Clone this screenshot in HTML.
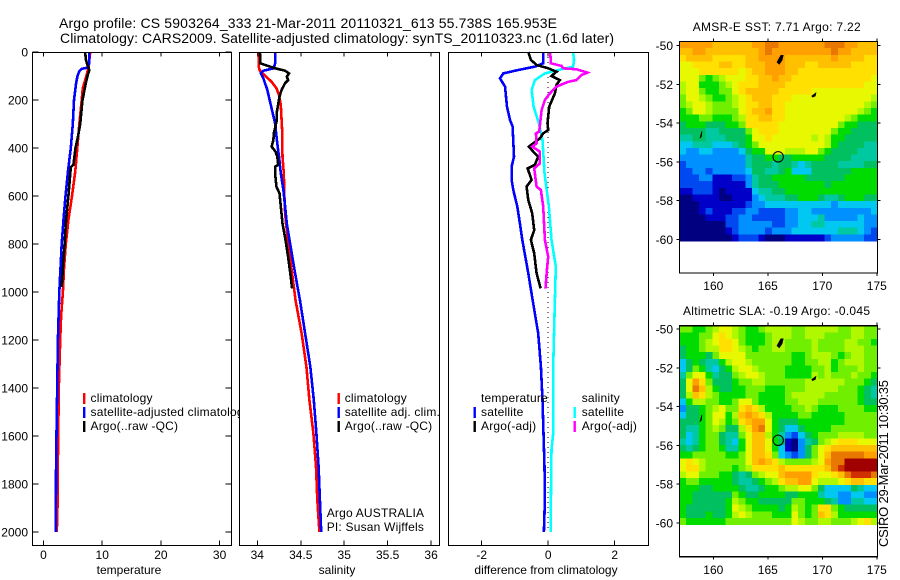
<!DOCTYPE html>
<html>
<head>
<meta charset="utf-8">
<title>Argo profile</title>
<style>
html,body{margin:0;padding:0;background:#fff;}
svg{display:block;font-family:"Liberation Sans",sans-serif;font-size:12px;fill:#000;}
.mark{fill:none;shape-rendering:crispEdges;stroke-linejoin:miter;}
.box{fill:none;stroke:#000;stroke-width:1.3;shape-rendering:crispEdges;}
.tick{stroke:#000;stroke-width:1;shape-rendering:crispEdges;}
</style>
</head>
<body>
<svg id="chart" xmlns="http://www.w3.org/2000/svg" width="900" height="580" viewBox="0 0 900 580">
<rect width="900" height="580" fill="#fff"/>
<text x="59" y="28" font-size="14" textLength="498">Argo profile: CS 5903264_333 21-Mar-2011 20110321_613 55.738S 165.953E</text>
<text x="60" y="43" font-size="14" textLength="554">Climatology: CARS2009. Satellite-adjusted climatology: synTS_20110323.nc (1.6d later)</text>
<g id="layer"></g>
<text transform="translate(888,547) rotate(-90)" font-size="13" textLength="167">CSIRO 29-Mar-2011 10:30:35</text>
</svg>
<script>
// ---- depth axis ----
const depthTicks = [0, 200, 400, 600, 800, 1000, 1200, 1400, 1600, 1800, 2000];
const tempTicks = [0, 10, 20, 30];
const salTicks = [34, 34.5, 35, 35.5, 36];
const diffTicks = [-2, 0, 2];
const lonTicks = [160, 165, 170, 175];
const latTicks = [-50, -52, -54, -56, -58, -60];

// ---- temperature panel ----
const tempClimDepth = [0, 60, 100, 150, 200, 300, 400, 500, 600, 700, 800, 900, 1000, 1100, 1200, 1400, 1500, 1600, 1800, 1880, 2000];
const tempClimValue = [7.95, 7.7, 7.3, 6.7, 6.5, 6.1, 5.75, 5.4, 4.85, 4.25, 3.8, 3.5, 3.3, 3.0, 2.85, 2.6, 2.55, 2.5, 2.4, 2.4, 2.27];
const tempSatDepth = [0, 50, 65, 70, 80, 100, 130, 200, 300, 400, 500, 600, 700, 800, 900, 1000, 1200, 1400, 1700, 2000];
const tempSatValue = [7.8, 7.75, 7.5, 6.55, 6.1, 5.8, 5.55, 5.2, 5.0, 4.65, 4.15, 3.75, 3.4, 3.1, 2.9, 2.7, 2.45, 2.33, 2.15, 2.1];
const tempArgoDepth = [0, 30, 55, 75, 100, 130, 200, 300, 350, 400, 470, 480, 600, 700, 800, 900, 980];
const tempArgoValue = [7.1, 7.2, 7.5, 7.8, 7.5, 7.2, 6.65, 6.25, 5.9, 5.45, 5.1, 4.65, 4.25, 3.85, 3.6, 3.3, 3.1];

// ---- salinity panel ----
const salClimDepth = [0, 61, 78, 96, 124, 151, 179, 221, 325, 436, 505, 644, 714, 853, 922, 1033, 1172, 1311, 1450, 1589, 1727, 1866, 2000];
const salClimValue = [34.015, 34.015, 34.03, 34.08, 34.165, 34.22, 34.25, 34.27, 34.285, 34.29, 34.305, 34.315, 34.33, 34.375, 34.40, 34.44, 34.51, 34.565, 34.60, 34.645, 34.675, 34.69, 34.715];
const salSatDepth = [0, 47, 68, 78, 89, 110, 158, 228, 297, 367, 436, 505, 575, 644, 714, 783, 922, 1033, 1172, 1311, 1450, 1589, 1727, 1866, 2000];
const salSatValue = [34.205, 34.205, 34.19, 34.07, 34.04, 34.07, 34.115, 34.16, 34.205, 34.225, 34.25, 34.27, 34.30, 34.32, 34.34, 34.37, 34.435, 34.49, 34.55, 34.61, 34.65, 34.68, 34.705, 34.72, 34.735];
const salArgoDepth = [0, 47, 54, 68, 78, 89, 103, 117, 130, 158, 186, 249, 283, 339, 367, 394, 415, 436, 470, 478, 505, 561, 589, 644, 714, 783, 853, 922, 985];
const salArgoValue = [34.03, 34.035, 34.09, 34.205, 34.32, 34.365, 34.34, 34.355, 34.32, 34.28, 34.255, 34.225, 34.225, 34.19, 34.185, 34.165, 34.21, 34.23, 34.24, 34.205, 34.205, 34.22, 34.255, 34.27, 34.29, 34.325, 34.355, 34.38, 34.40];

// ---- difference panel ----
const diffTempSatDepth = [0, 47, 61, 75, 89, 110, 144, 228, 283, 311, 436, 478, 533, 575, 644, 714, 783, 922, 1033, 1172, 1311, 1450, 1589, 1727, 1866, 2000];
const diffTempSatValue = [-0.15, -0.15, -0.4, -0.9, -1.35, -1.45, -1.3, -1.24, -1.15, -1.07, -1.03, -1.1, -1.1, -1.05, -0.93, -0.85, -0.78, -0.6, -0.47, -0.3, -0.22, -0.17, -0.14, -0.11, -0.1, -0.13];
const diffSalSatDepth = [0, 33, 61, 75, 89, 117, 158, 228, 297, 367, 505, 644, 783, 894, 1033, 1311, 1589, 1658, 1866, 2000];
const diffSalSatValue = [0.75, 0.78, 0.75, 0.3, -0.1, -0.4, -0.5, -0.44, -0.28, -0.17, -0.11, 0.02, 0.1, 0.23, 0.2, 0.15, 0.15, 0.1, 0.08, 0.08];
const diffTempArgoDepth = [0, 33, 54, 68, 82, 100, 117, 137, 172, 228, 297, 325, 339, 360, 394, 415, 436, 470, 485, 533, 561, 617, 672, 742, 783, 839, 922, 985];
const diffTempArgoValue = [-0.6, -0.52, -0.35, 0, 0.25, 0.1, 0.35, 0.25, 0.2, 0.03, -0.02, 0, -0.15, -0.25, -0.58, -0.45, -0.3, -0.4, -0.62, -0.5, -0.65, -0.6, -0.48, -0.42, -0.52, -0.42, -0.35, -0.23];
const diffSalArgoDepth = [0, 47, 58, 68, 72, 86, 96, 117, 124, 144, 172, 200, 242, 332, 339, 381, 394, 415, 464, 485, 561, 575, 644, 783, 853, 908, 985];
const diffSalArgoValue = [0.06, 0.08, 0.4, 0.45, 0.85, 1.18, 1.0, 0.85, 0.6, 0.25, 0.05, -0.1, -0.2, -0.27, -0.37, -0.35, -0.48, -0.25, -0.25, -0.42, -0.35, -0.22, -0.15, -0.1, 0, -0.04, -0.08];

// ---- map colour levels ----
const mapLevelColors = ["#000080","#0000c8","#0048f0","#0090ff","#00c8f0","#00c8a0","#00c060","#00dc00","#70f000","#b0f800","#e8f800","#ffe000","#ffc000","#ffa000","#e87800","#d03000","#a00000"];

// ---- AMSR-E SST grid (colour level per cell, north to south) ----
const sstCells = [
[13,13,13,13,13,12,12,12,12,12,12,13,13,14,14,13,13,13,13,13,13,13,14,14,14,13,13,12,12,12],
[12,12,13,13,12,12,12,12,12,12,12,12,13,14,13,13,13,13,13,13,13,13,13,14,13,13,12,12,12,12],
[11,12,12,12,12,11,11,11,11,11,12,12,13,13,13,13,12,12,12,12,12,12,12,13,12,12,12,12,11,11],
[10,10,11,11,11,11,12,12,11,11,12,12,12,13,13,13,12,12,12,11,11,12,12,12,12,12,11,11,11,11],
[10,10,10,11,11,11,11,11,11,10,11,12,12,13,13,13,12,12,11,11,11,11,11,11,11,11,11,11,11,11],
[10,10,10,8,7,8,9,10,10,10,11,11,12,12,13,12,12,11,11,11,11,11,11,11,11,11,11,11,11,10],
[9,10,10,7,7,7,8,9,10,11,11,11,12,12,12,12,11,11,11,11,11,11,11,11,11,11,11,11,10,10],
[9,10,10,8,7,7,8,8,10,11,12,12,12,12,12,11,11,11,11,11,10,10,10,10,10,10,10,10,10,10],
[8,10,10,9,8,7,7,8,9,10,11,12,12,12,11,11,11,10,10,10,10,10,10,10,10,10,10,10,10,9],
[8,9,10,10,9,8,8,8,9,10,11,11,12,12,11,11,10,10,10,10,10,10,10,10,10,10,10,10,9,8],
[7,8,10,10,9,8,8,8,8,10,11,12,12,13,11,11,10,10,10,10,10,10,10,10,10,10,10,9,8,7],
[7,7,7,8,8,7,7,7,8,9,11,11,12,12,11,11,10,10,10,10,10,10,10,10,10,9,8,7,7,7],
[6,7,7,7,6,6,6,7,7,8,11,11,11,11,11,10,10,10,10,10,10,10,10,10,8,7,7,6,6,6],
[6,6,6,6,5,5,6,6,6,6,8,10,11,11,11,10,10,10,10,10,10,10,10,8,7,7,6,6,6,6],
[5,5,6,6,5,5,5,6,6,6,7,10,10,11,10,10,10,10,10,10,9,10,9,7,7,6,6,6,6,6],
[4,4,5,5,5,4,4,4,5,6,7,8,10,10,10,10,10,10,10,10,10,10,9,7,6,6,6,6,5,5],
[4,3,3,4,4,3,3,3,3,4,6,7,7,10,10,10,9,9,9,10,10,8,7,6,6,6,6,5,5,5],
[3,3,3,3,3,3,3,3,3,3,5,6,6,7,7,6,6,7,7,7,7,7,6,6,6,6,5,5,5,5],
[2,3,3,3,3,3,3,3,3,3,5,6,6,6,5,6,6,5,4,5,6,6,6,6,5,5,5,5,6,6],
[2,2,3,3,2,3,3,3,3,3,4,6,6,5,5,6,7,4,4,4,6,6,6,6,6,6,7,7,7,7],
[2,2,2,3,3,1,1,1,2,2,3,5,6,6,7,7,7,7,7,6,6,6,6,6,6,7,7,7,7,7],
[2,2,2,2,2,1,1,1,1,1,3,5,6,6,6,7,7,7,7,7,7,7,6,7,7,7,7,7,7,7],
[1,1,2,2,2,1,0,1,1,1,1,4,5,5,6,6,7,7,7,7,7,7,7,7,7,7,7,7,7,7],
[0,0,1,1,1,1,0,0,1,1,1,3,4,5,5,5,6,6,7,7,7,6,5,5,6,7,7,7,6,6],
[0,0,0,1,1,1,1,1,1,1,2,3,3,4,4,4,4,4,4,4,4,4,4,3,4,4,4,4,4,4],
[0,0,0,1,2,1,1,1,2,2,3,3,2,2,2,2,3,3,4,4,3,3,3,3,3,3,3,3,3,4],
[0,0,0,0,1,1,1,2,2,3,3,2,2,2,2,2,3,3,4,4,4,5,3,3,3,3,3,4,3,3],
[0,0,0,0,0,0,0,2,2,3,3,3,3,3,2,2,3,3,4,4,5,5,4,4,4,4,4,4,3,3],
[0,0,0,0,0,0,0,1,2,3,3,3,3,2,3,3,3,4,4,4,4,4,4,4,5,5,5,4,3,2],
[0,0,0,0,0,0,0,0,1,2,2,2,1,0,0,0,1,1,1,1,1,1,2,3,3,3,3,3,2,2]
];

// ---- altimetric SLA grid (colour level per cell, north to south) ----
const slaCells = [
[8,8,7,7,8,9,10,10,9,8,7,7,8,9,9,9,9,8,8,9,9,9,9,9,8,8,9,9,8,8],
[7,7,7,8,8,10,11,10,9,8,7,7,7,8,9,9,9,8,8,9,9,9,8,8,8,8,9,9,8,8],
[7,7,7,8,9,10,11,11,10,8,7,7,7,8,9,9,8,8,8,8,9,8,8,8,8,9,9,8,8,7],
[6,7,7,8,9,9,11,11,10,9,8,7,8,8,9,9,8,8,8,8,9,8,8,8,8,9,9,9,8,8],
[6,7,7,7,6,8,10,10,10,10,8,8,8,8,8,8,8,7,7,8,9,9,9,8,7,8,9,9,8,8],
[4,6,7,6,5,5,7,9,10,10,9,8,8,8,8,8,8,7,7,8,8,9,9,7,8,9,9,9,8,8],
[4,6,8,7,5,4,6,7,9,10,10,9,8,8,8,8,7,7,7,7,8,8,9,7,8,8,8,9,8,8],
[5,8,10,10,7,5,6,6,8,9,10,10,9,8,8,8,7,7,7,7,9,8,9,8,8,8,9,8,8,7],
[6,10,13,11,8,6,6,6,7,8,8,9,9,8,8,8,8,8,8,9,9,9,9,9,9,8,8,8,7,6],
[6,10,14,12,9,7,6,6,7,7,8,8,8,7,7,7,8,8,8,9,9,9,9,9,8,8,8,7,6,5],
[6,9,12,11,9,8,7,7,7,7,8,8,7,7,7,7,8,9,9,9,9,9,8,8,8,8,8,7,6,5],
[4,7,9,9,8,8,7,7,8,10,10,8,7,7,7,7,8,8,9,9,9,8,8,8,8,8,8,7,6,6],
[3,6,6,7,8,9,10,8,8,11,12,11,9,7,7,7,7,8,8,9,8,7,7,7,8,8,8,8,7,7],
[4,6,6,7,8,10,10,7,9,12,13,12,11,9,7,7,7,7,8,8,7,7,7,7,7,8,8,8,8,8],
[6,6,6,7,8,10,9,7,8,11,12,13,13,10,7,6,6,6,7,7,7,7,7,7,7,8,8,8,8,8],
[6,5,5,7,8,9,8,6,6,9,11,13,14,10,7,6,4,4,6,7,7,7,7,8,8,8,8,8,8,8],
[6,4,5,7,8,8,6,5,5,8,10,12,12,9,7,5,3,2,4,6,7,8,8,8,9,9,9,9,8,8],
[5,4,5,7,8,8,6,5,4,7,10,12,12,10,7,6,1,0,3,5,6,8,9,10,11,11,11,10,10,10],
[6,5,6,7,8,8,7,5,5,7,10,12,12,10,7,4,1,0,3,6,8,10,11,12,12,12,12,12,12,12],
[7,7,8,8,8,8,8,7,7,8,10,12,12,11,8,4,3,2,3,6,8,10,12,14,14,14,14,14,13,13],
[10,11,10,9,8,8,8,8,8,8,10,12,13,12,11,9,8,8,8,8,9,10,13,14,14,16,16,16,16,16],
[10,11,11,9,8,8,8,8,7,8,9,11,11,11,11,12,11,11,11,11,11,11,12,14,15,16,16,16,16,16],
[9,10,10,8,8,8,7,7,6,5,6,8,9,10,10,12,13,13,13,13,11,10,10,11,12,14,15,15,15,14],
[7,8,8,7,7,7,7,7,6,5,5,6,7,8,9,11,12,12,13,13,10,9,9,9,10,11,12,12,11,11],
[7,7,7,6,6,7,7,7,7,6,5,5,6,7,7,8,9,9,10,10,8,6,4,4,4,4,6,5,4,4],
[7,7,6,6,6,6,6,6,8,7,6,6,7,7,7,7,6,6,7,7,7,5,4,4,3,3,4,4,3,3],
[7,7,6,6,6,6,6,7,9,8,7,7,6,6,6,6,6,8,8,7,7,7,6,5,3,3,5,5,4,4],
[7,6,6,6,6,6,6,7,10,9,8,7,7,7,7,6,7,9,8,7,8,11,11,8,7,6,6,6,6,6],
[7,6,6,6,7,6,6,7,9,10,9,8,8,8,7,7,7,10,8,7,8,12,11,9,7,7,7,7,7,7],
[8,7,7,7,7,7,7,8,8,8,8,8,8,8,8,8,8,10,9,8,8,9,9,8,8,8,9,10,11,9]
];

// ---- float position and coast blobs (lon, lat) ----
const floatLon = 165.953;
const floatLat = -55.738;
const islandLons = [[166.2, 166.4, 166.3, 166.05, 165.85], [169.05, 169.4, 169.35, 169.1], [158.8, 158.95, 158.9, 158.75]];
const islandLats = [[-50.5, -50.5, -50.75, -50.95, -50.85], [-52.6, -52.45, -52.6, -52.65], [-54.75, -54.42, -54.7, -54.78]];

const NS = "http://www.w3.org/2000/svg";
const layer = document.getElementById("layer");

function el(tag, attrs, parent) {
  const e = document.createElementNS(NS, tag);
  for (const k in attrs) e.setAttribute(k, attrs[k]);
  (parent || layer).appendChild(e);
  return e;
}
function label(str, x, y, anchor, parent) {
  const t = el("text", {x: x, y: y, "text-anchor": anchor || "start"}, parent);
  t.textContent = str;
  
  
  return t;
}
function tickLine(x1, y1, x2, y2, parent) {
  const l = el("line", {x1: x1, y1: y1, x2: x2, y2: y2, "class": "tick"}, parent);
  
  
}

const depthToY = d => 52 + d * 0.24;

function profilePanel(name, box, xOf, xTicks, xFmt, xTitle, titleX, yLabels) {
  const g = el("g", {});
  
  
  const bg = el("rect", {x: box.l, y: box.t, width: box.r - box.l, height: box.b - box.t, fill: "#fff"}, g);
  
  
  xTicks.forEach(v => {
    const x = xOf(v);
    tickLine(x, box.t, x, box.t + 4, g);
    tickLine(x, box.b, x, box.b - 5, g);
    label(xFmt(v), x, 559, "middle", g);
  });
  if (yLabels) {
    depthTicks.forEach(d => {
      const y = depthToY(d);
      tickLine(box.l, y, box.l + 6, y, g);
      tickLine(box.r, y, box.r - 6, y, g);
      label(String(d), 28, y + 4.5, "end", g);
    });
  }
  label(xTitle, titleX, 574, "middle", g);
  return g;
}
function curve(g, name, depths, values, xOf, color, width) {
  const pts = depths.map((d, i) => xOf(values[i]).toFixed(1) + "," + depthToY(d).toFixed(1)).join(" ");
  const p = el("polyline", {points: pts, stroke: color, "stroke-width": width || 2.6, "class": "mark"}, g);
  
  
}
function legendEntry(g, text, tx, sx, baseline, color) {
  if (color) {
    const s = el("rect", {x: sx, y: baseline - 9, width: 2.4, height: 11, fill: color}, g);
    
    
  }
  const t = label(text, tx, baseline, "start", g);
  t.setAttribute("letter-spacing", "0.2");
}
function frame(box) {
  const r = el("rect", {x: box.l, y: box.t, width: box.r - box.l, height: box.b - box.t, "class": "box"});
  
  
}

// temperature
const box1 = {l: 32.5, r: 231.5, t: 52.5, b: 545.5};
const xTemp = v => 43.5 + 5.87 * v;
const g1 = profilePanel("temperature-panel", box1, xTemp, tempTicks, String, "temperature", 129, true);
curve(g1, "temperature-climatology-line", tempClimDepth, tempClimValue, xTemp, "#ff0000");
curve(g1, "temperature-satellite-line", tempSatDepth, tempSatValue, xTemp, "#0000ff");
curve(g1, "temperature-argo-line", tempArgoDepth, tempArgoValue, xTemp, "#000000");
frame(box1);
legendEntry(g1, "climatology", 90.5, 83, 402, "#ff0000");
legendEntry(g1, "satellite-adjusted climatology", 90.5, 83, 416, "#0000ff");
legendEntry(g1, "Argo(..raw -QC)", 90.5, 83, 430, "#000000");

// salinity
const box2 = {l: 239.5, r: 439.5, t: 52.5, b: 545.5};
const xSal = v => 257.3 + 86.9 * (v - 34);
const g2 = profilePanel("salinity-panel", box2, xSal, salTicks, String, "salinity", 337, false);
curve(g2, "salinity-climatology-line", salClimDepth, salClimValue, xSal, "#ff0000");
curve(g2, "salinity-satellite-line", salSatDepth, salSatValue, xSal, "#0000ff");
curve(g2, "salinity-argo-line", salArgoDepth, salArgoValue, xSal, "#000000");
frame(box2);
legendEntry(g2, "climatology", 344.7, 337.5, 402, "#ff0000");
legendEntry(g2, "satellite adj. clim.", 344.7, 337.5, 416, "#0000ff");
legendEntry(g2, "Argo(..raw -QC)", 344.7, 337.5, 430, "#000000");
legendEntry(g2, "Argo AUSTRALIA", 326.7, 0, 517, null);
legendEntry(g2, "PI: Susan Wijffels", 326.7, 0, 531, null);

// difference
const box3 = {l: 448.5, r: 648.5, t: 52.5, b: 545.5};
const xDiff = v => 548.2 + 33.25 * v;
const g3 = profilePanel("difference-panel", box3, xDiff, diffTicks, String, "difference from climatology", 546, false);
const zero = el("line", {x1: xDiff(0), y1: depthToY(0), x2: xDiff(0), y2: depthToY(2000), stroke: "#000", "stroke-width": 1, "stroke-dasharray": "1 4", "class": "tick"}, g3);


curve(g3, "difference-temperature-satellite-line", diffTempSatDepth, diffTempSatValue, xDiff, "#0000ff");
curve(g3, "difference-salinity-satellite-line", diffSalSatDepth, diffSalSatValue, xDiff, "#00ffff");
curve(g3, "difference-temperature-argo-line", diffTempArgoDepth, diffTempArgoValue, xDiff, "#000000");
curve(g3, "difference-salinity-argo-line", diffSalArgoDepth, diffSalArgoValue, xDiff, "#ff00ff");
frame(box3);
legendEntry(g3, "temperature", 481, 0, 402, null);
legendEntry(g3, "satellite", 481, 473.5, 416, "#0000ff");
legendEntry(g3, "Argo(-adj)", 481, 473.5, 430, "#000000");
legendEntry(g3, "salinity", 581.7, 0, 402, null);
legendEntry(g3, "satellite", 581.7, 573.5, 416, "#00ffff");
legendEntry(g3, "Argo(-adj)", 581.7, 573.5, 430, "#ff00ff");

// maps
function mapPanel(name, cells, box, lat0Y, titleStr, titleX, titleY, titleLen, labelY) {
  const g = el("g", {});
  
  
  const xLon = lon => 713.3 + 10.9 * (lon - 160);
  const yLat = lat => lat0Y + 19.36 * (-50 - lat);
  const lonStart = 156.88, lonStep = 0.606;
  const latStart = -50 + (lat0Y - box.t) / 19.36;
  const latStep = (latStart + 60.09) / cells.length;
  cells.forEach((row, r) => {
    row.forEach((level, c) => {
      const x0 = xLon(lonStart + c * lonStep), x1 = xLon(lonStart + (c + 1) * lonStep);
      const y0 = yLat(latStart - r * latStep), y1 = yLat(latStart - (r + 1) * latStep);
      const cell = el("rect", {x: x0.toFixed(2), y: y0.toFixed(2), width: (x1 - x0 + 0.4).toFixed(2), height: (y1 - y0 + 0.4).toFixed(2), fill: mapLevelColors[level], "shape-rendering": "crispEdges"}, g);
      
      
    });
  });
  islandLons.forEach((lons, i) => {
    const pts = lons.map((lon, j) => xLon(lon).toFixed(1) + "," + yLat(islandLats[i][j]).toFixed(1)).join(" ");
    const isl = el("polygon", {points: pts, fill: "#000", stroke: "#000", "stroke-width": 0.8}, g);
    
    
  });
  const mark = el("circle", {cx: xLon(floatLon), cy: yLat(floatLat), r: 5.2, fill: "none", stroke: "#000", "stroke-width": 1}, g);
  
  
  const r = el("rect", {x: box.l, y: box.t, width: box.r - box.l, height: box.b - box.t, "class": "box"}, g);
  
  
  lonTicks.forEach(lon => {
    const x = xLon(lon);
    tickLine(x, box.t, x, box.t - 3, g);
    tickLine(x, box.b, x, box.b + 3, g);
    label(String(lon), x, labelY, "middle", g);
  });
  latTicks.forEach(lat => {
    const y = yLat(lat);
    tickLine(box.l, y, box.l - 3, y, g);
    tickLine(box.r, y, box.r + 3, y, g);
    label(String(lat), 673, y + 4.5, "end", g);
  });
  const title = label(titleStr, titleX, titleY, "start", g);
  title.setAttribute("textLength", titleLen);
}
mapPanel("sst-map", sstCells, {l: 679.5, r: 877.5, t: 41.5, b: 273}, 45.7, "AMSR-E SST: 7.71 Argo: 7.22", 692.7, 31, 168, 290);
mapPanel("sla-map", slaCells, {l: 679.5, r: 877.5, t: 325.7, b: 556.7}, 329.2, "Altimetric SLA: -0.19 Argo: -0.045", 683, 315, 187, 574);
</script>
</body>
</html>
